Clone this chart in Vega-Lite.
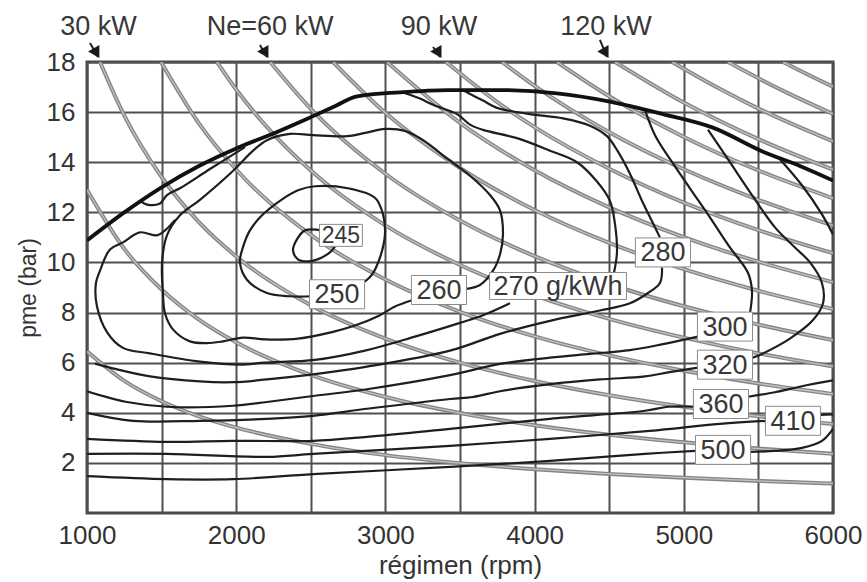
{
  "$schema": "https://vega.github.io/schema/vega-lite/v6.json",
  "width": 746,
  "height": 451,
  "autosize": {"type": "none"},
  "padding": {"left": 87, "top": 62, "right": 34, "bottom": 69},
  "background": "white",
  "config": {
    "view": {"stroke": "#4a4a4a", "strokeWidth": 3},
    "font": "Liberation Sans",
    "axis": {
      "domain": false, "ticks": false, "grid": true,
      "gridColor": "#505050", "gridWidth": 2, "gridOpacity": 1,
      "labelFont": "Liberation Sans", "labelFontSize": 26, "labelColor": "#333333",
      "titleFont": "Liberation Sans", "titleFontWeight": "normal", "titleColor": "#333333"
    }
  },
  "datasets": {
    "hyp": [
      {"P":10,"n":1000,"pme":6.45},{"P":10,"n":1250,"pme":5.27},{"P":10,"n":1500,"pme":4.46},{"P":10,"n":1750,"pme":3.86},{"P":10,"n":2000,"pme":3.41},{"P":10,"n":2500,"pme":2.76},{"P":10,"n":3000,"pme":2.31},{"P":10,"n":3500,"pme":1.99},{"P":10,"n":4000,"pme":1.75},{"P":10,"n":4500,"pme":1.56},{"P":10,"n":5000,"pme":1.41},{"P":10,"n":5500,"pme":1.28},{"P":10,"n":6000,"pme":1.18},
      {"P":20,"n":1000,"pme":12.9},{"P":20,"n":1250,"pme":10.54},{"P":20,"n":1500,"pme":8.92},{"P":20,"n":1750,"pme":7.72},{"P":20,"n":2000,"pme":6.81},{"P":20,"n":2500,"pme":5.51},{"P":20,"n":3000,"pme":4.63},{"P":20,"n":3500,"pme":3.99},{"P":20,"n":4000,"pme":3.5},{"P":20,"n":4500,"pme":3.12},{"P":20,"n":5000,"pme":2.82},{"P":20,"n":5500,"pme":2.57},{"P":20,"n":6000,"pme":2.36},
      {"P":30,"n":1087,"pme":18},{"P":30,"n":1250,"pme":15.86},{"P":30,"n":1500,"pme":13.41},{"P":30,"n":1750,"pme":11.61},{"P":30,"n":2000,"pme":10.24},{"P":30,"n":2500,"pme":8.29},{"P":30,"n":3000,"pme":6.96},{"P":30,"n":3500,"pme":6.0},{"P":30,"n":4000,"pme":5.27},{"P":30,"n":4500,"pme":4.7},{"P":30,"n":5000,"pme":4.24},{"P":30,"n":5500,"pme":3.86},{"P":30,"n":6000,"pme":3.55},
      {"P":40,"n":1496,"pme":18},{"P":40,"n":1750,"pme":15.55},{"P":40,"n":2000,"pme":13.71},{"P":40,"n":2500,"pme":11.1},{"P":40,"n":3000,"pme":9.32},{"P":40,"n":3500,"pme":8.03},{"P":40,"n":4000,"pme":7.05},{"P":40,"n":4500,"pme":6.29},{"P":40,"n":5000,"pme":5.68},{"P":40,"n":5500,"pme":5.17},{"P":40,"n":6000,"pme":4.75},
      {"P":50,"n":1871,"pme":18},{"P":50,"n":2000,"pme":16.9},{"P":50,"n":2250,"pme":15.12},{"P":50,"n":2500,"pme":13.67},{"P":50,"n":3000,"pme":11.48},{"P":50,"n":3500,"pme":9.9},{"P":50,"n":4000,"pme":8.69},{"P":50,"n":4500,"pme":7.75},{"P":50,"n":5000,"pme":7.0},{"P":50,"n":5500,"pme":6.37},{"P":50,"n":6000,"pme":5.85},
      {"P":60,"n":2228,"pme":18},{"P":60,"n":2500,"pme":16.13},{"P":60,"n":3000,"pme":13.54},{"P":60,"n":3500,"pme":11.67},{"P":60,"n":4000,"pme":10.25},{"P":60,"n":4500,"pme":9.14},{"P":60,"n":5000,"pme":8.25},{"P":60,"n":5500,"pme":7.52},{"P":60,"n":6000,"pme":6.9},
      {"P":70,"n":2649,"pme":18},{"P":70,"n":3000,"pme":15.97},{"P":70,"n":3500,"pme":13.77},{"P":70,"n":4000,"pme":12.09},{"P":70,"n":4500,"pme":10.78},{"P":70,"n":5000,"pme":9.73},{"P":70,"n":5500,"pme":8.87},{"P":70,"n":6000,"pme":8.14},
      {"P":80,"n":3011,"pme":18},{"P":80,"n":3500,"pme":15.57},{"P":80,"n":4000,"pme":13.68},{"P":80,"n":4500,"pme":12.2},{"P":80,"n":5000,"pme":11.01},{"P":80,"n":5500,"pme":10.03},{"P":80,"n":6000,"pme":9.21},
      {"P":90,"n":3406,"pme":18},{"P":90,"n":3750,"pme":16.4},{"P":90,"n":4000,"pme":15.4},{"P":90,"n":4500,"pme":13.74},{"P":90,"n":5000,"pme":12.39},{"P":90,"n":5500,"pme":11.29},{"P":90,"n":6000,"pme":10.37},
      {"P":100,"n":3782,"pme":18},{"P":100,"n":4000,"pme":17.05},{"P":100,"n":4500,"pme":15.2},{"P":100,"n":5000,"pme":13.72},{"P":100,"n":5500,"pme":12.5},{"P":100,"n":6000,"pme":11.47},
      {"P":110,"n":4150,"pme":18},{"P":110,"n":4500,"pme":16.63},{"P":110,"n":5000,"pme":15.01},{"P":110,"n":5500,"pme":13.67},{"P":110,"n":6000,"pme":12.56},
      {"P":120,"n":4539,"pme":18},{"P":120,"n":5000,"pme":16.38},{"P":120,"n":5500,"pme":14.92},{"P":120,"n":6000,"pme":13.7},
      {"P":130,"n":4921,"pme":18},{"P":130,"n":5250,"pme":16.9},{"P":130,"n":5500,"pme":16.14},{"P":130,"n":6000,"pme":14.83},
      {"P":140,"n":5296,"pme":18},{"P":140,"n":5500,"pme":17.35},{"P":140,"n":5750,"pme":16.61},{"P":140,"n":6000,"pme":15.93},
      {"P":150,"n":5665,"pme":18},{"P":150,"n":5750,"pme":17.74},{"P":150,"n":6000,"pme":17.01}
    ],
    "full": [
      {"n":1000,"pme":10.88},{"n":1250,"pme":12.0},{"n":1500,"pme":13.0},{"n":1750,"pme":13.85},{"n":2000,"pme":14.55},{"n":2250,"pme":15.15},{"n":2500,"pme":15.8},{"n":2650,"pme":16.2},{"n":2810,"pme":16.63},{"n":3098,"pme":16.79},{"n":3420,"pme":16.88},{"n":3768,"pme":16.88},{"n":4150,"pme":16.75},{"n":4505,"pme":16.42},{"n":4860,"pme":15.92},{"n":5195,"pme":15.38},{"n":5531,"pme":14.42},{"n":5778,"pme":13.85},{"n":6000,"pme":13.27}
    ],
    "bsfc": [
      {"id":"c245","seq":1,"n":2575,"pme":11.28},{"id":"c245","seq":2,"n":2461,"pme":11.28},{"id":"c245","seq":3,"n":2407,"pme":10.92},{"id":"c245","seq":4,"n":2381,"pme":10.48},{"id":"c245","seq":5,"n":2414,"pme":10.12},{"id":"c245","seq":6,"n":2481,"pme":10.04},{"id":"c245","seq":7,"n":2575,"pme":10.2},{"id":"c245","seq":8,"n":2642,"pme":10.48},{"id":"c245","seq":9,"n":2662,"pme":10.64},

      {"id":"c250","seq":1,"n":2508,"pme":8.65},{"id":"c250","seq":2,"n":2360,"pme":8.65},{"id":"c250","seq":3,"n":2206,"pme":8.78},{"id":"c250","seq":4,"n":2072,"pme":9.31},{"id":"c250","seq":5,"n":2025,"pme":10.0},{"id":"c250","seq":6,"n":2045,"pme":10.6},{"id":"c250","seq":7,"n":2092,"pme":11.28},{"id":"c250","seq":8,"n":2173,"pme":11.88},{"id":"c250","seq":9,"n":2293,"pme":12.46},{"id":"c250","seq":10,"n":2414,"pme":12.88},{"id":"c250","seq":11,"n":2528,"pme":13.04},{"id":"c250","seq":12,"n":2749,"pme":12.96},{"id":"c250","seq":13,"n":2930,"pme":12.58},{"id":"c250","seq":14,"n":2984,"pme":11.92},{"id":"c250","seq":15,"n":2997,"pme":11.12},{"id":"c250","seq":16,"n":2964,"pme":10.2},{"id":"c250","seq":17,"n":2910,"pme":9.51},{"id":"c250","seq":18,"n":2850,"pme":9.18},

      {"id":"c260","seq":1,"n":3533,"pme":8.94},{"id":"c260","seq":2,"n":3634,"pme":9.1},{"id":"c260","seq":3,"n":3721,"pme":9.67},{"id":"c260","seq":4,"n":3768,"pme":10.32},{"id":"c260","seq":5,"n":3788,"pme":11.12},{"id":"c260","seq":6,"n":3768,"pme":12.08},{"id":"c260","seq":7,"n":3701,"pme":12.69},{"id":"c260","seq":8,"n":3567,"pme":13.46},{"id":"c260","seq":9,"n":3399,"pme":14.21},{"id":"c260","seq":10,"n":3265,"pme":14.83},{"id":"c260","seq":11,"n":3131,"pme":15.25},{"id":"c260","seq":12,"n":2997,"pme":15.33},{"id":"c260","seq":13,"n":2863,"pme":15.17},{"id":"c260","seq":14,"n":2743,"pme":15.04},{"id":"c260","seq":15,"n":2515,"pme":15.08},{"id":"c260","seq":16,"n":2360,"pme":15.13},{"id":"c260","seq":17,"n":2206,"pme":14.88},{"id":"c260","seq":18,"n":2113,"pme":14.46},{"id":"c260","seq":19,"n":1978,"pme":13.65},{"id":"c260","seq":20,"n":1757,"pme":12.5},{"id":"c260","seq":21,"n":1623,"pme":11.88},{"id":"c260","seq":22,"n":1536,"pme":11.08},{"id":"c260","seq":23,"n":1503,"pme":10.0},{"id":"c260","seq":24,"n":1509,"pme":8.78},{"id":"c260","seq":25,"n":1523,"pme":7.96},{"id":"c260","seq":26,"n":1576,"pme":7.33},{"id":"c260","seq":27,"n":1690,"pme":6.85},{"id":"c260","seq":28,"n":1804,"pme":6.78},{"id":"c260","seq":29,"n":1911,"pme":6.85},{"id":"c260","seq":30,"n":2045,"pme":7.0},{"id":"c260","seq":31,"n":2193,"pme":6.93},{"id":"c260","seq":32,"n":2414,"pme":6.96},{"id":"c260","seq":33,"n":2642,"pme":7.22},{"id":"c260","seq":34,"n":2796,"pme":7.48},{"id":"c260","seq":35,"n":2950,"pme":7.85},{"id":"c260","seq":36,"n":3064,"pme":8.24},{"id":"c260","seq":37,"n":3178,"pme":8.49},

      {"id":"c270a","seq":1,"n":4532,"pme":9.59},{"id":"c270a","seq":2,"n":4552,"pme":10.4},{"id":"c270a","seq":3,"n":4539,"pme":11.52},{"id":"c270a","seq":4,"n":4505,"pme":12.46},{"id":"c270a","seq":5,"n":4418,"pme":13.23},{"id":"c270a","seq":6,"n":4284,"pme":14.0},{"id":"c270a","seq":7,"n":4103,"pme":14.46},{"id":"c270a","seq":8,"n":3882,"pme":14.96},{"id":"c270a","seq":9,"n":3654,"pme":15.29},{"id":"c270a","seq":10,"n":3567,"pme":15.5},{"id":"c270a","seq":11,"n":3480,"pme":15.92},{"id":"c270a","seq":12,"n":3319,"pme":16.29},{"id":"c270a","seq":13,"n":3232,"pme":16.54},{"id":"c270a","seq":14,"n":3131,"pme":16.75},

      {"id":"c270b","seq":1,"n":3835,"pme":8.37},{"id":"c270b","seq":2,"n":3654,"pme":7.89},{"id":"c270b","seq":3,"n":3500,"pme":7.59},{"id":"c270b","seq":4,"n":3198,"pme":7.04},{"id":"c270b","seq":5,"n":2863,"pme":6.48},{"id":"c270b","seq":6,"n":2528,"pme":6.11},{"id":"c270b","seq":7,"n":2193,"pme":6.0},{"id":"c270b","seq":8,"n":2025,"pme":5.92},{"id":"c270b","seq":9,"n":1757,"pme":6.04},{"id":"c270b","seq":10,"n":1422,"pme":6.37},{"id":"c270b","seq":11,"n":1241,"pme":6.59},{"id":"c270b","seq":12,"n":1134,"pme":7.22},{"id":"c270b","seq":13,"n":1067,"pme":8.24},{"id":"c270b","seq":14,"n":1060,"pme":9.18},{"id":"c270b","seq":15,"n":1087,"pme":9.67},{"id":"c270b","seq":16,"n":1154,"pme":10.52},{"id":"c270b","seq":17,"n":1241,"pme":10.8},{"id":"c270b","seq":18,"n":1355,"pme":11.2},{"id":"c270b","seq":19,"n":1469,"pme":11.08},{"id":"c270b","seq":20,"n":1523,"pme":11.28},{"id":"c270b","seq":21,"n":1590,"pme":11.7},

      {"id":"c270c","seq":1,"n":1355,"pme":12.46},{"id":"c270c","seq":2,"n":1402,"pme":12.31},{"id":"c270c","seq":3,"n":1489,"pme":12.35},{"id":"c270c","seq":4,"n":1536,"pme":12.69},{"id":"c270c","seq":5,"n":1623,"pme":12.96},{"id":"c270c","seq":6,"n":1824,"pme":13.73},{"id":"c270c","seq":7,"n":2059,"pme":14.6},

      {"id":"c280a","seq":1,"n":3533,"pme":16.83},{"id":"c280a","seq":2,"n":3654,"pme":16.46},{"id":"c280a","seq":3,"n":3748,"pme":16.17},{"id":"c280a","seq":4,"n":3969,"pme":15.92},{"id":"c280a","seq":5,"n":4190,"pme":15.75},{"id":"c280a","seq":6,"n":4371,"pme":15.46},{"id":"c280a","seq":7,"n":4485,"pme":15.04},{"id":"c280a","seq":8,"n":4559,"pme":14.42},{"id":"c280a","seq":9,"n":4639,"pme":13.54},{"id":"c280a","seq":10,"n":4726,"pme":12.38},{"id":"c280a","seq":11,"n":4807,"pme":11.4},{"id":"c280a","seq":12,"n":4840,"pme":11.0},

      {"id":"c280b","seq":1,"n":4854,"pme":9.8},{"id":"c280b","seq":2,"n":4840,"pme":9.18},{"id":"c280b","seq":3,"n":4760,"pme":8.78},{"id":"c280b","seq":4,"n":4639,"pme":8.37},{"id":"c280b","seq":5,"n":4438,"pme":8.08},{"id":"c280b","seq":6,"n":4103,"pme":7.67},{"id":"c280b","seq":7,"n":3768,"pme":7.15},{"id":"c280b","seq":8,"n":3433,"pme":6.48},{"id":"c280b","seq":9,"n":2877,"pme":5.84},{"id":"c280b","seq":10,"n":2515,"pme":5.53},{"id":"c280b","seq":11,"n":2206,"pme":5.33},{"id":"c280b","seq":12,"n":1978,"pme":5.22},{"id":"c280b","seq":13,"n":1757,"pme":5.25},{"id":"c280b","seq":14,"n":1422,"pme":5.45},{"id":"c280b","seq":15,"n":1154,"pme":5.8},{"id":"c280b","seq":16,"n":1054,"pme":5.96},

      {"id":"c300a","seq":1,"n":4740,"pme":16.08},{"id":"c300a","seq":2,"n":4807,"pme":15.08},{"id":"c300a","seq":3,"n":4907,"pme":14.13},{"id":"c300a","seq":4,"n":5041,"pme":12.96},{"id":"c300a","seq":5,"n":5175,"pme":11.8},{"id":"c300a","seq":6,"n":5309,"pme":10.6},{"id":"c300a","seq":7,"n":5430,"pme":9.59},{"id":"c300a","seq":8,"n":5457,"pme":8.86},{"id":"c300a","seq":9,"n":5443,"pme":7.96},

      {"id":"c300b","seq":1,"n":5095,"pme":7.04},{"id":"c300b","seq":2,"n":4860,"pme":6.74},{"id":"c300b","seq":3,"n":4639,"pme":6.5},{"id":"c300b","seq":4,"n":4371,"pme":6.35},{"id":"c300b","seq":5,"n":4103,"pme":6.2},{"id":"c300b","seq":6,"n":3768,"pme":5.95},{"id":"c300b","seq":7,"n":3433,"pme":5.5},{"id":"c300b","seq":8,"n":2877,"pme":4.94},{"id":"c300b","seq":9,"n":2515,"pme":4.67},{"id":"c300b","seq":10,"n":2206,"pme":4.43},{"id":"c300b","seq":11,"n":1978,"pme":4.28},{"id":"c300b","seq":12,"n":1536,"pme":4.24},{"id":"c300b","seq":13,"n":1268,"pme":4.43},{"id":"c300b","seq":14,"n":1000,"pme":4.86},

      {"id":"c320a","seq":1,"n":5162,"pme":15.3},{"id":"c320a","seq":2,"n":5309,"pme":14.0},{"id":"c320a","seq":3,"n":5457,"pme":12.69},{"id":"c320a","seq":4,"n":5611,"pme":11.4},{"id":"c320a","seq":5,"n":5745,"pme":10.6},{"id":"c320a","seq":6,"n":5846,"pme":10.0},{"id":"c320a","seq":7,"n":5926,"pme":9.18},{"id":"c320a","seq":8,"n":5933,"pme":8.37},{"id":"c320a","seq":9,"n":5866,"pme":7.7},{"id":"c320a","seq":10,"n":5711,"pme":6.96},{"id":"c320a","seq":11,"n":5531,"pme":6.37},{"id":"c320a","seq":12,"n":5457,"pme":6.19},

      {"id":"c320b","seq":1,"n":5095,"pme":5.8},{"id":"c320b","seq":2,"n":4894,"pme":5.61},{"id":"c320b","seq":3,"n":4740,"pme":5.45},{"id":"c320b","seq":4,"n":4438,"pme":5.33},{"id":"c320b","seq":5,"n":4103,"pme":5.14},{"id":"c320b","seq":6,"n":3768,"pme":4.86},{"id":"c320b","seq":7,"n":3587,"pme":4.63},{"id":"c320b","seq":8,"n":3433,"pme":4.55},{"id":"c320b","seq":9,"n":2877,"pme":4.16},{"id":"c320b","seq":10,"n":2515,"pme":3.88},{"id":"c320b","seq":11,"n":2206,"pme":3.76},{"id":"c320b","seq":12,"n":1757,"pme":3.68},{"id":"c320b","seq":13,"n":1308,"pme":3.68},{"id":"c320b","seq":14,"n":1000,"pme":4.0},

      {"id":"c360a","seq":1,"n":5631,"pme":14.21},{"id":"c360a","seq":2,"n":5792,"pme":13.08},{"id":"c360a","seq":3,"n":5926,"pme":11.92},{"id":"c360a","seq":4,"n":6000,"pme":11.12},

      {"id":"c360b","seq":1,"n":5423,"pme":4.63},{"id":"c360b","seq":2,"n":5611,"pme":4.82},{"id":"c360b","seq":3,"n":5792,"pme":5.06},{"id":"c360b","seq":4,"n":6000,"pme":5.29},

      {"id":"c360c","seq":1,"n":5075,"pme":4.24},{"id":"c360c","seq":2,"n":4894,"pme":4.24},{"id":"c360c","seq":3,"n":4740,"pme":4.08},{"id":"c360c","seq":4,"n":4103,"pme":3.76},{"id":"c360c","seq":5,"n":3433,"pme":3.36},{"id":"c360c","seq":6,"n":2877,"pme":3.04},{"id":"c360c","seq":7,"n":2515,"pme":2.88},{"id":"c360c","seq":8,"n":1978,"pme":2.88},{"id":"c360c","seq":9,"n":1536,"pme":2.84},{"id":"c360c","seq":10,"n":1000,"pme":2.96},

      {"id":"c410a","seq":1,"n":5557,"pme":3.68},{"id":"c410a","seq":2,"n":5242,"pme":3.56},{"id":"c410a","seq":3,"n":4773,"pme":3.28},{"id":"c410a","seq":4,"n":4103,"pme":2.96},{"id":"c410a","seq":5,"n":3433,"pme":2.68},{"id":"c410a","seq":6,"n":2515,"pme":2.36},{"id":"c410a","seq":7,"n":2206,"pme":2.24},{"id":"c410a","seq":8,"n":1536,"pme":2.36},{"id":"c410a","seq":9,"n":1000,"pme":2.36},

      {"id":"c410b","seq":1,"n":5913,"pme":3.92},{"id":"c410b","seq":2,"n":6000,"pme":3.94},

      {"id":"c500a","seq":1,"n":1000,"pme":1.47},{"id":"c500a","seq":2,"n":1536,"pme":1.35},{"id":"c500a","seq":3,"n":1978,"pme":1.35},{"id":"c500a","seq":4,"n":2515,"pme":1.55},{"id":"c500a","seq":5,"n":3433,"pme":1.84},{"id":"c500a","seq":6,"n":4103,"pme":2.08},{"id":"c500a","seq":7,"n":4740,"pme":2.36},{"id":"c500a","seq":8,"n":5075,"pme":2.48},

      {"id":"c500b","seq":1,"n":5443,"pme":2.44},{"id":"c500b","seq":2,"n":5611,"pme":2.48},{"id":"c500b","seq":3,"n":5792,"pme":2.6},{"id":"c500b","seq":4,"n":5926,"pme":2.88},{"id":"c500b","seq":5,"n":6000,"pme":3.36}
    ],
    "labels": [
      {"t":"245","n":2702,"pme":11.08},
      {"t":"250","n":2676,"pme":8.73},
      {"t":"260","n":3359,"pme":8.9},
      {"t":"270 g/kWh","n":4157,"pme":9.06},
      {"t":"280","n":4860,"pme":10.4},
      {"t":"300","n":5276,"pme":7.44},
      {"t":"320","n":5276,"pme":5.92},
      {"t":"360","n":5249,"pme":4.35},
      {"t":"410","n":5732,"pme":3.68},
      {"t":"500","n":5263,"pme":2.52}
    ],
    "power": [
      {"t":"30 kW","n":1077,"pme":19.08,"n0":1020,"p0":18.76,"n1":1074,"p1":18.2,"nh":1064,"ph":18.35},
      {"t":"Ne=60 kW","n":2227,"pme":19.08,"n0":2159,"p0":18.68,"n1":2206,"p1":18.2,"nh":2197,"ph":18.35},
      {"t":"90 kW","n":3359,"pme":19.08,"n0":3319,"p0":18.6,"n1":3366,"p1":18.2,"nh":3357,"ph":18.35},
      {"t":"120 kW","n":4478,"pme":19.08,"n0":4438,"p0":18.88,"n1":4485,"p1":18.2,"nh":4477,"ph":18.35}
    ]
  },
  "layer": [
    {
      "data": {"name": "hyp"},
      "mark": {"type": "line", "color": "#858585", "strokeWidth": 4, "interpolate": "monotone", "clip": true},
      "encoding": {
        "x": {
          "field": "n", "type": "quantitative",
          "scale": {"domain": [1000, 6000], "nice": false, "zero": false},
          "axis": {
            "values": [1000, 1500, 2000, 2500, 3000, 3500, 4000, 4500, 5000, 5500, 6000],
            "format": "d",
            "labelExpr": "datum.value % 1000 === 0 ? datum.label : ''",
            "labelFlush": false, "labelOverlap": false, "labelPadding": 9,
            "title": "régimen (rpm)", "titleFontSize": 26, "titlePadding": 4
          }
        },
        "y": {
          "field": "pme", "type": "quantitative",
          "scale": {"domain": [0, 18], "nice": false},
          "axis": {
            "values": [2, 4, 6, 8, 10, 12, 14, 16, 18],
            "labelOverlap": false, "labelPadding": 12,
            "title": "pme (bar)", "titleFontSize": 23, "titlePadding": 6
          }
        },
        "detail": {"field": "P", "type": "nominal"}
      }
    },
    {
      "data": {"name": "hyp"},
      "mark": {"type": "line", "color": "#c2c2c2", "strokeWidth": 1.3, "interpolate": "monotone", "clip": true},
      "encoding": {
        "x": {"field": "n", "type": "quantitative"},
        "y": {"field": "pme", "type": "quantitative"},
        "detail": {"field": "P", "type": "nominal"}
      }
    },
    {
      "data": {"name": "bsfc"},
      "mark": {"type": "line", "color": "#1e1e1e", "strokeWidth": 2.2, "interpolate": "catmull-rom", "clip": true},
      "encoding": {
        "x": {"field": "n", "type": "quantitative"},
        "y": {"field": "pme", "type": "quantitative"},
        "detail": {"field": "id", "type": "nominal"},
        "order": {"field": "seq", "type": "quantitative"}
      }
    },
    {
      "data": {"name": "full"},
      "mark": {"type": "line", "color": "#111111", "strokeWidth": 3.8, "interpolate": "monotone", "clip": true},
      "encoding": {
        "x": {"field": "n", "type": "quantitative"},
        "y": {"field": "pme", "type": "quantitative"}
      }
    },
    {
      "data": {"name": "labels"},
      "transform": [{"filter": "datum.t !== '245' && datum.t !== '270 g/kWh'"}],
      "mark": {"type": "point", "shape": "M-1.9,-1H1.9V1H-1.9Z", "size": 841, "filled": true, "fill": "white", "stroke": "#8c8c8c", "strokeWidth": 1, "opacity": 1},
      "encoding": {
        "x": {"field": "n", "type": "quantitative"},
        "y": {"field": "pme", "type": "quantitative"}
      }
    },
    {
      "data": {"name": "labels"},
      "transform": [{"filter": "datum.t === '245'"}],
      "mark": {"type": "point", "shape": "M-1.95,-1H1.95V1H-1.95Z", "size": 484, "filled": true, "fill": "white", "stroke": "#8c8c8c", "strokeWidth": 1, "opacity": 1},
      "encoding": {
        "x": {"field": "n", "type": "quantitative"},
        "y": {"field": "pme", "type": "quantitative"}
      }
    },
    {
      "data": {"name": "labels"},
      "transform": [{"filter": "datum.t === '270 g/kWh'"}],
      "mark": {"type": "point", "shape": "M-5.07,-1H5.07V1H-5.07Z", "size": 729, "filled": true, "fill": "white", "stroke": "#8c8c8c", "strokeWidth": 1, "opacity": 1},
      "encoding": {
        "x": {"field": "n", "type": "quantitative"},
        "y": {"field": "pme", "type": "quantitative"}
      }
    },
    {
      "data": {"name": "labels"},
      "mark": {"type": "text", "font": "Liberation Sans", "color": "#383838", "baseline": "middle", "align": "center", "dy": 1},
      "encoding": {
        "x": {"field": "n", "type": "quantitative"},
        "y": {"field": "pme", "type": "quantitative"},
        "text": {"field": "t"},
        "size": {"condition": {"test": "datum.t === '245'", "value": 23}, "value": 27}
      }
    },
    {
      "data": {"name": "power"},
      "mark": {"type": "text", "font": "Liberation Sans", "fontSize": 27, "color": "#383838", "baseline": "alphabetic", "align": "center"},
      "encoding": {
        "x": {"field": "n", "type": "quantitative"},
        "y": {"field": "pme", "type": "quantitative"},
        "text": {"field": "t"}
      }
    },
    {
      "data": {"name": "power"},
      "mark": {"type": "rule", "color": "#222222", "strokeWidth": 2},
      "encoding": {
        "x": {"field": "n0", "type": "quantitative"},
        "y": {"field": "p0", "type": "quantitative"},
        "x2": {"field": "n1"},
        "y2": {"field": "p1"}
      }
    },
    {
      "data": {"name": "power"},
      "mark": {"type": "point", "shape": "triangle-down", "size": 170, "filled": true, "color": "#1a1a1a", "opacity": 1, "angle": -30},
      "encoding": {
        "x": {"field": "nh", "type": "quantitative"},
        "y": {"field": "ph", "type": "quantitative"}
      }
    }
  ]
}
